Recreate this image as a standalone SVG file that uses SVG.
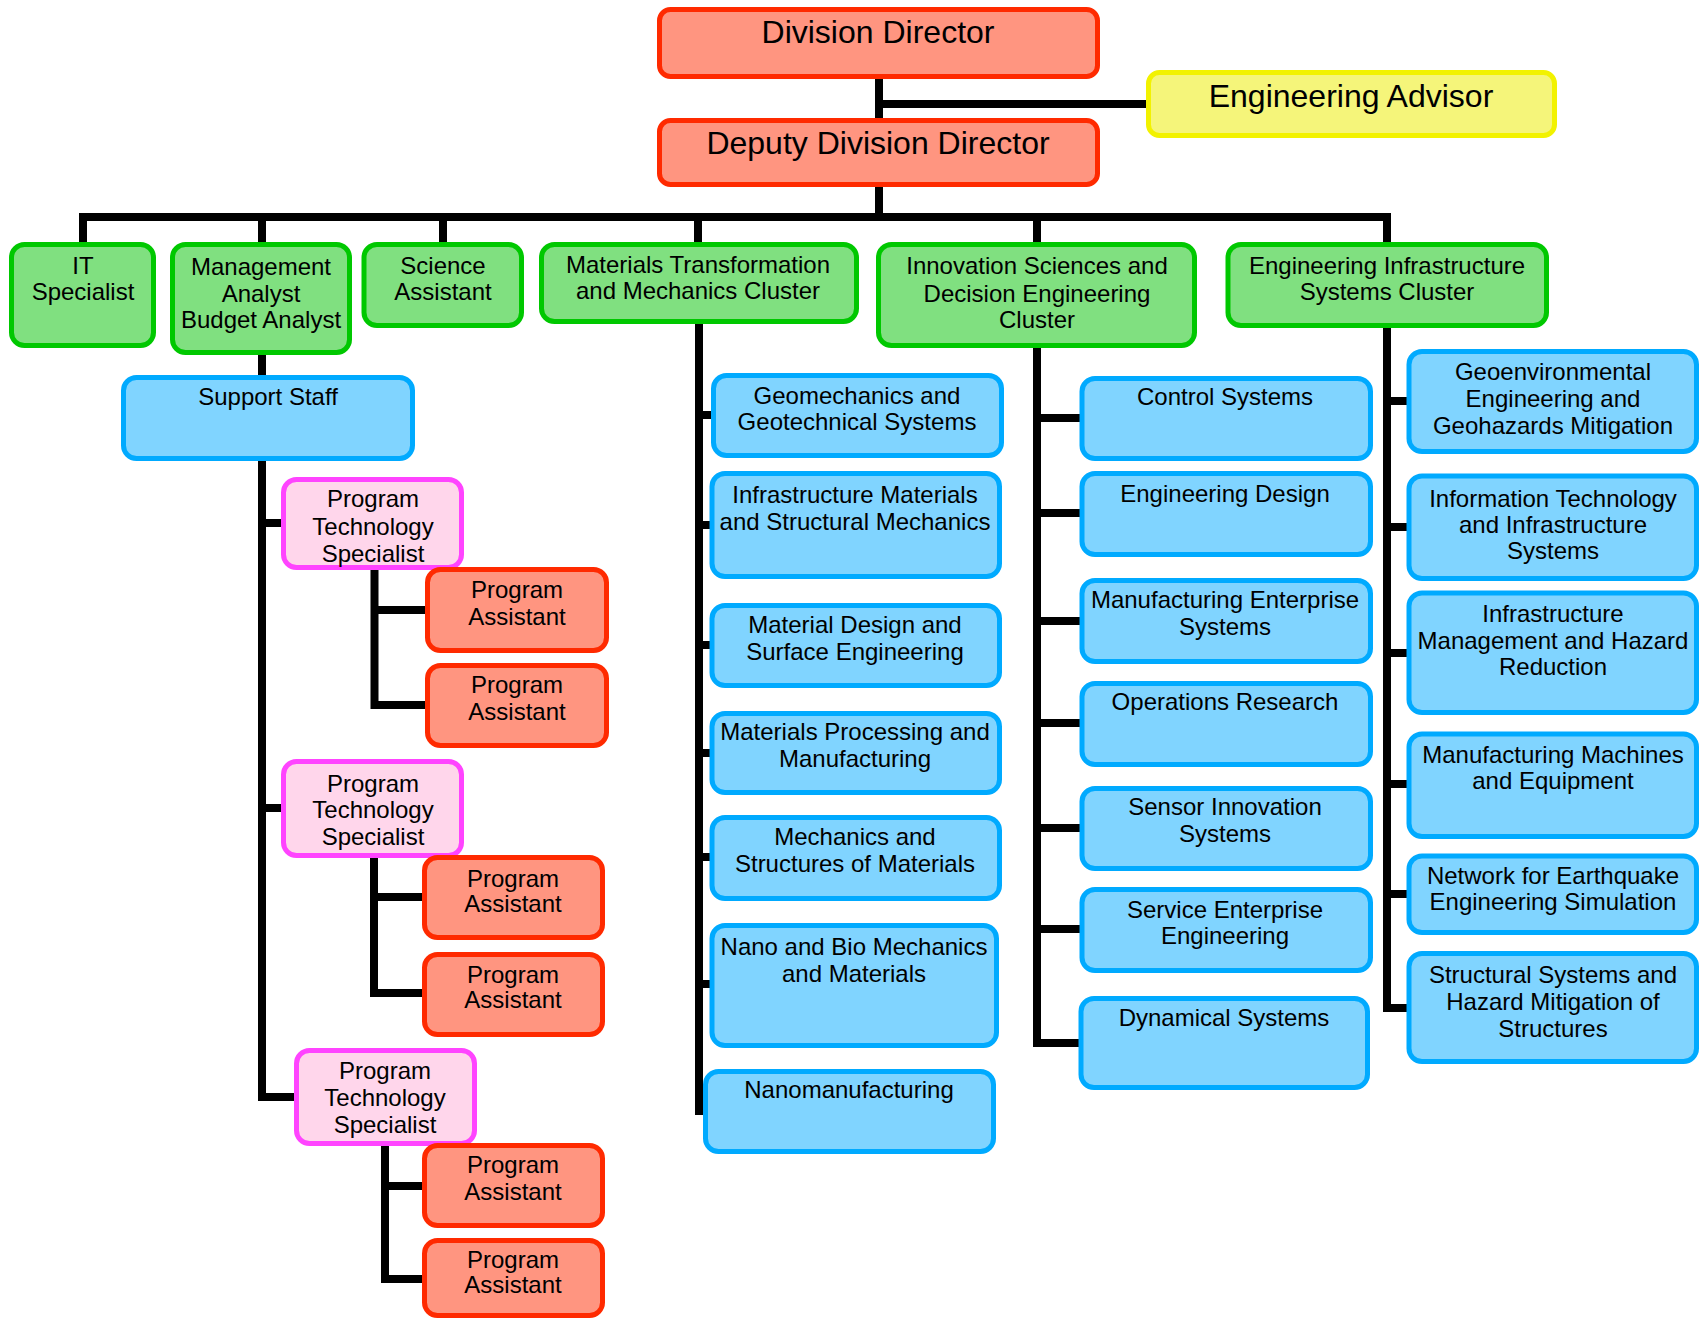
<svg xmlns="http://www.w3.org/2000/svg" width="1701" height="1320" viewBox="0 0 1701 1320">
<style>
rect{stroke-width:5}
.red{fill:#FF9580;stroke:#FF2A00}
.yel{fill:#F5F57A;stroke:#F2F200}
.grn{fill:#80E080;stroke:#00C800}
.blu{fill:#80D4FF;stroke:#00AAFF}
.pnk{fill:#FFD6EB;stroke:#FF44FF}
text{font-family:"Liberation Sans",Arial,sans-serif;fill:#000;text-anchor:middle;font-size:24px}
.big{font-size:32px}
.r{font-size:24px}
.c{fill:none;stroke:#000;stroke-width:8;stroke-linejoin:miter}
</style>
<defs>
<clipPath id="clipPts1"><rect x="283.5" y="479.5" width="178" height="88"/></clipPath>
</defs>
<g id="connectors">
<path class="c" d="M879 77V118M879 104H1146M879 187V217"/>
<path class="c" d="M83 243V217H1387V243M262 217V243M443 217V243M698 217V243M1037 217V243"/>
<path class="c" d="M262 355V375M262 461V1097H294M262 523H281M262 808H281"/>
<path class="c" d="M374.5 570V705H425M374.5 610H425"/>
<path class="c" d="M374 858V993H422M374 897H422"/>
<path class="c" d="M385 1146V1279H422M385 1186H422"/>
<path class="c" d="M699 324V1115M699 415H711M699 525H710M699 645H710M699 753H710M699 857H710M699 984H710"/>
<path class="c" d="M1037 348V1043H1079M1037 418H1080M1037 513H1080M1037 621H1080M1037 723H1080M1037 828H1080M1037 929H1080"/>
<path class="c" d="M1387 328V1008H1407M1387 401H1407M1387 527H1407M1387 653H1407M1387 784H1407M1387 894H1407"/>
</g>
<g id="division-director"><rect class="red" x="659.5" y="9.5" width="438" height="67" rx="11"/><text class="big" x="878" y="43">Division Director</text></g>
<g id="engineering-advisor"><rect class="yel" x="1148.5" y="72.5" width="406" height="63" rx="11"/><text class="big" x="1351" y="107">Engineering Advisor</text></g>
<g id="deputy-division-director"><rect class="red" x="659.5" y="120.5" width="438" height="64" rx="11"/><text class="big" x="878" y="154">Deputy Division Director</text></g>

<g id="it-specialist"><rect class="grn" x="11.5" y="244.5" width="142" height="101" rx="13"/><text x="83" y="274">IT</text><text x="83" y="300">Specialist</text></g>
<g id="management-analyst"><rect class="grn" x="172.5" y="244.5" width="177" height="108" rx="13"/><text x="261" y="275">Management</text><text x="261" y="302">Analyst</text><text x="261" y="328">Budget Analyst</text></g>
<g id="science-assistant"><rect class="grn" x="364" y="244.5" width="157.5" height="81" rx="13"/><text x="443" y="274">Science</text><text x="443" y="300">Assistant</text></g>
<g id="materials-cluster"><rect class="grn" x="541.5" y="244.5" width="315" height="77" rx="13"/><text x="698" y="273">Materials Transformation</text><text x="698" y="299">and Mechanics Cluster</text></g>
<g id="innovation-cluster"><rect class="grn" x="878.5" y="244.5" width="316" height="101" rx="13"/><text x="1037" y="274">Innovation Sciences and</text><text x="1037" y="302">Decision Engineering</text><text x="1037" y="328">Cluster</text></g>
<g id="infrastructure-cluster"><rect class="grn" x="1228" y="244.5" width="318.5" height="81" rx="13"/><text x="1387" y="274">Engineering Infrastructure</text><text x="1387" y="300">Systems Cluster</text></g>

<g id="support-staff"><rect class="blu" x="123.5" y="377.5" width="289" height="81" rx="13"/><text x="268" y="405">Support Staff</text></g>
<g id="pts-1"><rect class="pnk" x="283.5" y="479.5" width="178" height="88" rx="13"/><g clip-path="url(#clipPts1)"><text x="373" y="507">Program</text><text x="373" y="535">Technology</text><text x="373" y="562">Specialist</text></g></g>
<g id="pa-1"><rect class="red" x="427.5" y="569.5" width="179" height="81" rx="13"/><text x="517" y="598">Program</text><text x="517" y="625">Assistant</text></g>
<g id="pa-2"><rect class="red" x="427.5" y="665.5" width="179" height="80" rx="13"/><text x="517" y="693">Program</text><text x="517" y="720">Assistant</text></g>
<g id="pts-2"><rect class="pnk" x="283.5" y="761.5" width="178" height="94" rx="13"/><text x="373" y="792">Program</text><text x="373" y="818">Technology</text><text x="373" y="845">Specialist</text></g>
<g id="pa-3"><rect class="red" x="424.5" y="857.5" width="178" height="80" rx="13"/><text x="513" y="887">Program</text><text x="513" y="912">Assistant</text></g>
<g id="pa-4"><rect class="red" x="424.5" y="954.5" width="178" height="80" rx="13"/><text x="513" y="983">Program</text><text x="513" y="1008">Assistant</text></g>
<g id="pts-3"><rect class="pnk" x="296.5" y="1050.5" width="178" height="93" rx="13"/><text x="385" y="1079">Program</text><text x="385" y="1106">Technology</text><text x="385" y="1133">Specialist</text></g>
<g id="pa-5"><rect class="red" x="424.5" y="1145.5" width="178" height="80" rx="13"/><text x="513" y="1173">Program</text><text x="513" y="1200">Assistant</text></g>
<g id="pa-6"><rect class="red" x="424.5" y="1240.5" width="178" height="75" rx="13"/><text x="513" y="1268">Program</text><text x="513" y="1293">Assistant</text></g>

<g id="geomechanics"><rect class="blu" x="713.5" y="375.5" width="288" height="80" rx="13"/><text x="857" y="404">Geomechanics and</text><text x="857" y="430">Geotechnical Systems</text></g>
<g id="infrastructure-materials"><rect class="blu" x="712" y="473.5" width="287.5" height="103" rx="13"/><text x="855" y="503">Infrastructure Materials</text><text x="855" y="530">and Structural Mechanics</text></g>
<g id="material-design"><rect class="blu" x="712" y="605.5" width="287.5" height="80" rx="13"/><text x="855" y="633">Material Design and</text><text x="855" y="660">Surface Engineering</text></g>
<g id="materials-processing"><rect class="blu" x="712" y="713.5" width="287.5" height="79" rx="13"/><text x="855" y="740">Materials Processing and</text><text x="855" y="767">Manufacturing</text></g>
<g id="mechanics-structures"><rect class="blu" x="712" y="817.5" width="287.5" height="81" rx="13"/><text x="855" y="845">Mechanics and</text><text x="855" y="872">Structures of Materials</text></g>
<g id="nano-bio"><rect class="blu" x="712" y="925.5" width="284.5" height="120" rx="13"/><text x="854" y="955">Nano and Bio Mechanics</text><text x="854" y="982">and Materials</text></g>
<g id="nanomanufacturing"><rect class="blu" x="705.5" y="1071.5" width="288" height="80" rx="13"/><text x="849" y="1098">Nanomanufacturing</text></g>

<g id="control-systems"><rect class="blu" x="1082" y="378.5" width="288.5" height="80" rx="13"/><text x="1225" y="405">Control Systems</text></g>
<g id="engineering-design"><rect class="blu" x="1082" y="473.5" width="288.5" height="81" rx="13"/><text x="1225" y="502">Engineering Design</text></g>
<g id="manufacturing-enterprise"><rect class="blu" x="1082" y="580.5" width="288.5" height="81" rx="13"/><text x="1225" y="608">Manufacturing Enterprise</text><text x="1225" y="635">Systems</text></g>
<g id="operations-research"><rect class="blu" x="1082" y="683.5" width="288.5" height="81" rx="13"/><text x="1225" y="710">Operations Research</text></g>
<g id="sensor-innovation"><rect class="blu" x="1082" y="788.5" width="288.5" height="80" rx="13"/><text x="1225" y="815">Sensor Innovation</text><text x="1225" y="842">Systems</text></g>
<g id="service-enterprise"><rect class="blu" x="1082" y="889.5" width="288.5" height="81" rx="13"/><text x="1225" y="918">Service Enterprise</text><text x="1225" y="944">Engineering</text></g>
<g id="dynamical-systems"><rect class="blu" x="1081" y="998.5" width="286.5" height="89" rx="13"/><text x="1224" y="1026">Dynamical Systems</text></g>

<g id="geoenvironmental"><rect class="blu" x="1409" y="351.5" width="287.5" height="100" rx="13"/><text class="r" x="1553" y="380">Geoenvironmental</text><text class="r" x="1553" y="406.5">Engineering and</text><text class="r" x="1553" y="433.5">Geohazards Mitigation</text></g>
<g id="information-technology"><rect class="blu" x="1409" y="476" width="287.5" height="102.5" rx="13"/><text class="r" x="1553" y="507">Information Technology</text><text class="r" x="1553" y="533">and Infrastructure</text><text class="r" x="1553" y="559">Systems</text></g>
<g id="infrastructure-management"><rect class="blu" x="1409" y="593" width="287.5" height="119.5" rx="13"/><text class="r" x="1553" y="621.5">Infrastructure</text><text class="r" x="1553" y="649">Management and Hazard</text><text class="r" x="1553" y="675">Reduction</text></g>
<g id="manufacturing-machines"><rect class="blu" x="1409" y="734" width="287.5" height="102.5" rx="13"/><text class="r" x="1553" y="762.5">Manufacturing Machines</text><text class="r" x="1553" y="789">and Equipment</text></g>
<g id="nees"><rect class="blu" x="1409" y="856" width="287.5" height="76.5" rx="13"/><text class="r" x="1553" y="883.5">Network for Earthquake</text><text class="r" x="1553" y="910">Engineering Simulation</text></g>
<g id="structural-systems"><rect class="blu" x="1409" y="953.5" width="287.5" height="108" rx="13"/><text class="r" x="1553" y="982.5">Structural Systems and</text><text class="r" x="1553" y="1009.5">Hazard Mitigation of</text><text class="r" x="1553" y="1036.5">Structures</text></g>
</svg>
